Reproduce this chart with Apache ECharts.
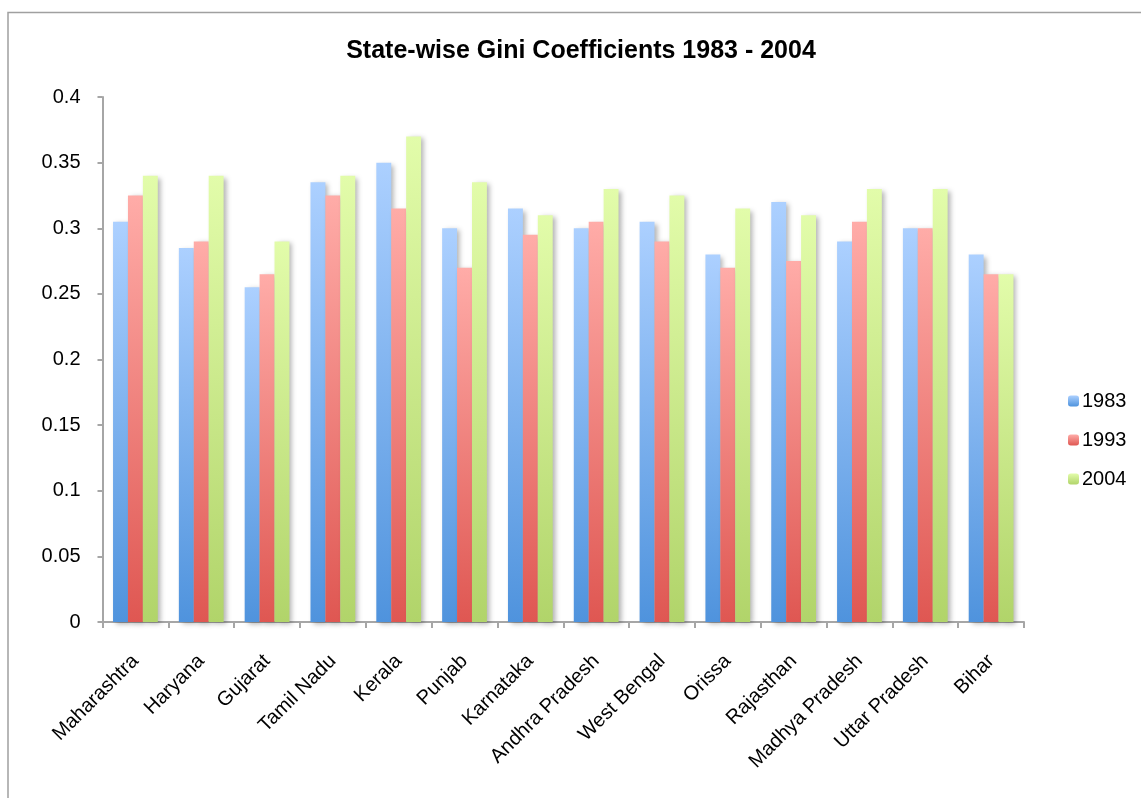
<!DOCTYPE html>
<html>
<head>
<meta charset="utf-8">
<script src="https://cdn.jsdelivr.net/npm/echarts@6/dist/echarts.min.js"></script>
<style>
  html, body { margin: 0; padding: 0; background: #fff; }
  #chart { width: 1141px; height: 798px; }
</style>
</head>
<body>
<div id="chart"></div>
<script>
// States in display order
const states = ['Maharashtra', 'Haryana', 'Gujarat', 'Tamil Nadu', 'Kerala', 'Punjab', 'Karnataka',
  'Andhra Pradesh', 'West Bengal', 'Orissa', 'Rajasthan', 'Madhya Pradesh', 'Uttar Pradesh', 'Bihar'];

// Gini coefficient per state for each survey year
const gini1983 = [0.305, 0.285, 0.255, 0.335, 0.35, 0.30, 0.315, 0.30, 0.305, 0.28, 0.32, 0.29, 0.30, 0.28];
const gini1993 = [0.325, 0.29, 0.265, 0.325, 0.315, 0.27, 0.295, 0.305, 0.29, 0.27, 0.275, 0.305, 0.30, 0.265];
const gini2004 = [0.34, 0.34, 0.29, 0.34, 0.37, 0.335, 0.31, 0.33, 0.325, 0.315, 0.31, 0.33, 0.33, 0.265];

const years = ['1983', '1993', '2004'];

const chart = echarts.init(document.getElementById('chart'), null, { renderer: 'canvas' });

function grad(top, bottom) {
  return new echarts.graphic.LinearGradient(0, 0, 0, 1, [
    { offset: 0, color: top },
    { offset: 1, color: bottom }
  ]);
}

const palette = [
  ['#acd0ff', '#4f93dd'],
  ['#ffaca8', '#df5752'],
  ['#e2fcaa', '#b1d46a']
];

function barSeries(name, data, colors) {
  return {
    name: name,
    type: 'bar',
    data: data,
    barGap: '0%',
    barCategoryGap: '32%',
    itemStyle: {
      color: grad(colors[0], colors[1]),
      shadowColor: 'rgba(0,0,0,0.3)',
      shadowBlur: 5,
      shadowOffsetX: 3,
      shadowOffsetY: 2
    },
    emphasis: { disabled: true }
  };
}

const font = '"Liberation Sans", Arial, sans-serif';

chart.setOption({
  animation: false,
  backgroundColor: '#fff',
  textStyle: { fontFamily: font },
  title: {
    text: 'State-wise Gini Coefficients 1983 - 2004',
    left: 576,
    top: 34,
    textAlign: 'center',
    textStyle: { fontSize: 25, fontWeight: 'bold', color: '#000', fontFamily: font }
  },
  graphic: [{
    type: 'rect',
    shape: { x: 8, y: 12.5, width: 1300, height: 900 },
    style: { fill: 'none', stroke: '#a0a0a0', lineWidth: 1.5 },
    silent: true
  }],
  legend: {
    orient: 'vertical',
    left: 1063,
    top: 386,
    itemWidth: 11,
    itemHeight: 11,
    itemGap: 19,
    data: years,
    textStyle: { fontSize: 20, color: '#000', padding: [0, 0, 0, -2] }
  },
  grid: {
    left: 102.5,
    right: 117,
    top: 97,
    bottom: 176,
    containLabel: false
  },
  xAxis: {
    type: 'category',
    data: states,
    axisLine: { lineStyle: { color: '#a6a6a6', width: 2 } },
    axisTick: { show: true, length: 6, alignWithLabel: false, lineStyle: { color: '#a6a6a6', width: 2 } },
    axisLabel: { rotate: 45, interval: 0, fontSize: 20, color: '#000', margin: 36 },
    splitLine: { show: false }
  },
  yAxis: {
    type: 'value',
    min: 0,
    max: 0.4,
    interval: 0.05,
    axisLine: { show: true, lineStyle: { color: '#a6a6a6', width: 2 } },
    axisTick: { show: true, inside: false, length: 5, lineStyle: { color: '#a6a6a6', width: 2 } },
    axisLabel: {
      fontSize: 20, color: '#000', margin: 22,
      formatter: function (v) { return String(+v.toFixed(2)); }
    },
    splitLine: { show: false }
  },
  series: [
    barSeries(years[0], gini1983, palette[0]),
    barSeries(years[1], gini1993, palette[1]),
    barSeries(years[2], gini2004, palette[2])
  ]
});
</script>
</body>
</html>
